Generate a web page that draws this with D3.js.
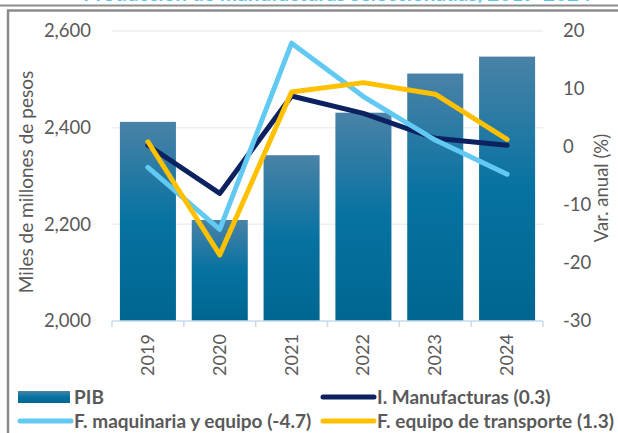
<!DOCTYPE html>
<html><head><meta charset="utf-8">
<script src="https://cdn.jsdelivr.net/npm/d3@7"></script>
<style>
html,body{margin:0;padding:0;background:#fff;}
svg{display:block;font-family:Lato,"Open Sans",sans-serif;}
</style></head>
<body>
<svg id="chart" width="618" height="433"></svg>
<script>
const years = ["2019","2020","2021","2022","2023","2024"];
const pib = [2412, 2209, 2343, 2431, 2512, 2547];
const manufacturas = [0.3, -8.0, 8.8, 5.8, 1.5, 0.3];
const maquinaria = [-3.5, -14.2, 17.9, 8.7, 1.2, -4.7];
const transporte = [0.9, -18.6, 9.5, 11.1, 9.1, 1.3];
const leftTicks = [2000, 2200, 2400, 2600];
const rightTicks = [-30, -20, -10, 0, 10, 20];
const legendLabels = ["PIB", "I. Manufacturas (0.3)", "F. maquinaria y equipo (-4.7)", "F. equipo de transporte (1.3)"];

const svg = d3.select("#chart");
const textCol = "#595959";

// title fragment (cut off at top, as in the reference)
svg.append("text").attr("x", 337).attr("y", 1).attr("text-anchor", "middle")
  .attr("font-size", 21).attr("font-weight", "bold").attr("fill", "#5ec4ef")
  .attr("textLength", 508).attr("lengthAdjust", "spacingAndGlyphs")
  .text("Producción de manufacturas seleccionadas, 2019-2024");

// frame lines
svg.append("rect").attr("x", 0).attr("y", 3).attr("width", 618).attr("height", 2).attr("fill", "#fff");
svg.append("line").attr("x1", 0).attr("x2", 618).attr("y1", 5.5).attr("y2", 5.5)
  .attr("stroke", "#8c8c8c").attr("stroke-width", 2);
svg.append("rect").attr("x", 8).attr("y", 10.5).attr("width", 640).attr("height", 440)
  .attr("fill", "none").attr("stroke", "#8c8c8c").attr("stroke-width", 2.5);

const x = d3.scaleBand().domain(years).range([112, 543]).paddingInner(0.22).paddingOuter(0.11);
const yL = d3.scaleLinear().domain([2000, 2600]).range([321, 31]);
const yR = d3.scaleLinear().domain([-30, 20]).range([321, 31]);

// gradient
const defs = svg.append("defs");
const g = defs.append("linearGradient").attr("id", "barGrad").attr("x1", 0).attr("x2", 0).attr("y1", 0).attr("y2", 1);
g.append("stop").attr("offset", "0%").attr("stop-color", "#4a82a7");
g.append("stop").attr("offset", "50%").attr("stop-color", "#0672a1");
g.append("stop").attr("offset", "100%").attr("stop-color", "#006690");

// gridlines
svg.append("g").selectAll("line").data(leftTicks.filter(d => d > 2000)).join("line")
  .attr("x1", 112).attr("x2", 543).attr("y1", d => yL(d)).attr("y2", d => yL(d))
  .attr("stroke", "#eeeeee").attr("stroke-width", 1.5);

// bars
svg.append("g").selectAll("rect").data(pib).join("rect")
  .attr("x", (d, i) => x(years[i])).attr("width", x.bandwidth())
  .attr("y", d => yL(d)).attr("height", d => yL(2000) - yL(d))
  .attr("fill", "url(#barGrad)");

// x axis line & ticks
const axisCol = "#c6dbef";
svg.append("line").attr("x1", 112).attr("x2", 543).attr("y1", 321).attr("y2", 321)
  .attr("stroke", axisCol).attr("stroke-width", 1.5);
const bounds = years.map(y => x(y) - x.step() * x.paddingInner() / 2);
bounds[0] = 112; bounds.push(543);
svg.append("g").selectAll("line").data(bounds).join("line")
  .attr("x1", d => d).attr("x2", d => d).attr("y1", 321).attr("y2", 327)
  .attr("stroke", axisCol).attr("stroke-width", 1.5);

// x labels
svg.append("g").selectAll("text").data(years).join("text")
  .attr("transform", d => `translate(${x(d) + x.bandwidth() / 2 + 6},355) rotate(-90)`)
  .attr("text-anchor", "middle").attr("font-size", 18).attr("fill", textCol).text(d => d);

// left axis labels
const fmt = d3.format(",");
svg.append("g").selectAll("text").data(leftTicks).join("text")
  .attr("x", 91).attr("y", d => yL(d)).attr("dy", "0.35em").attr("text-anchor", "end")
  .attr("font-size", 18.5).attr("fill", textCol).text(d => fmt(d));
// right axis labels
svg.append("g").selectAll("text").data(rightTicks).join("text")
  .attr("x", 563).attr("y", d => yR(d)).attr("dy", "0.35em").attr("text-anchor", "start")
  .attr("font-size", 18.5).attr("fill", textCol).text(d => d);

// axis titles
svg.append("text").attr("transform", "translate(33,182) rotate(-90)").attr("text-anchor", "middle")
  .attr("font-size", 19).attr("fill", textCol).text("Miles de millones de pesos");
svg.append("text").attr("transform", "translate(608,188) rotate(-90)").attr("text-anchor", "middle")
  .attr("font-size", 18.5).attr("fill", textCol).text("Var. anual (%)");

// lines
const series = [
  {vals: manufacturas, color: "#0b2160"},
  {vals: maquinaria, color: "#62caf2"},
  {vals: transporte, color: "#ffc000"}
];
const line = d3.line().x((d, i) => x(years[i]) + x.bandwidth() / 2).y(d => yR(d));
svg.append("g").selectAll("path").data(series).join("path")
  .attr("d", s => line(s.vals)).attr("fill", "none").attr("stroke", s => s.color)
  .attr("stroke-width", 5).attr("stroke-linejoin", "round").attr("stroke-linecap", "round");

// legend
const leg = svg.append("g");
const items = [
  {label: legendLabels[0], type: "bar", x: 18, y: 397},
  {label: legendLabels[1], type: "line", color: "#0b2160", x: 321, y: 397},
  {label: legendLabels[2], type: "line", color: "#62caf2", x: 18, y: 421},
  {label: legendLabels[3], type: "line", color: "#ffc000", x: 321, y: 421}
];
items.forEach(it => {
  if (it.type === "bar") {
    leg.append("rect").attr("x", it.x).attr("y", it.y - 6).attr("width", 52).attr("height", 12).attr("fill", "url(#barGrad)");
  } else {
    leg.append("line").attr("x1", it.x + 2).attr("x2", it.x + 53).attr("y1", it.y).attr("y2", it.y)
      .attr("stroke", it.color).attr("stroke-width", 5).attr("stroke-linecap", "round");
  }
  leg.append("text").attr("x", it.x + 56).attr("y", it.y).attr("dy", "0.35em")
    .attr("font-size", 19).attr("font-weight", "bold").attr("fill", textCol).text(it.label);
});
</script>
</body></html>
